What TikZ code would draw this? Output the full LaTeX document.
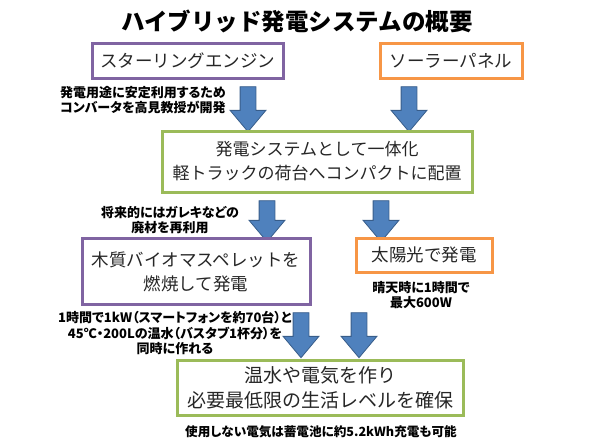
\documentclass[tikz,border=0pt]{standalone}
\usepackage{fontspec}
\setmainfont{Noto Sans CJK JP}
\newfontfamily\notefont[RawFeature=+palt]{Noto Sans CJK JP}
\usetikzlibrary{shapes.arrows}
\definecolor{boxpurple}{RGB}{128,100,162}
\definecolor{boxorange}{RGB}{247,150,70}
\definecolor{boxgreen}{RGB}{155,187,89}
\definecolor{arrowfill}{RGB}{79,129,189}
\definecolor{arrowedge}{RGB}{56,93,138}
\tikzset{
  box/.style={draw,line width=3pt,fill=white,inner sep=0pt,align=center,text=black!85},
  purplebox/.style={box,draw=boxpurple},
  orangebox/.style={box,draw=boxorange},
  greenbox/.style={box,draw=boxgreen},
  note/.style={font=\notefont\bfseries\fontsize{13}{15.5}\selectfont,inner sep=0pt},
  bigarrow/.style={single arrow,draw=arrowedge,fill=arrowfill,line width=0.8pt,
    minimum width=35pt,single arrow head extend=10pt,single arrow tip angle=80,
    inner sep=7.5pt,rotate=-90}
}
\begin{document}
\begin{tikzpicture}[x=1pt,y=-1pt]
  \useasboundingbox (0,0) rectangle (595,445);
  % タイトル
  \node[font=\bfseries\fontsize{23.5}{28}\selectfont] (title) at (297,21) {ハイブリッド発電システムの概要};
  % 上段
  \node[purplebox,minimum width=191pt,minimum height=35pt,font=\fontsize{17.5}{24}\selectfont] (engine) at (187.5,60.5) {スターリングエンジン};
  \node[orangebox,minimum width=142pt,minimum height=35pt,font=\fontsize{17.5}{24}\selectfont] (panel) at (451,60.5) {ソーラーパネル};
  \node[bigarrow,minimum height=45pt] (arrA) at (248,104.5) {};
  \node[bigarrow,minimum height=45pt] (arrB) at (409,104.5) {};
  \node[note,anchor=west,align=left] (conv) at (60,100) {発電用途に安定利用するため\\コンバータを高見教授が開発};
  % 中段
  \node[greenbox,minimum width=310pt,minimum height=61pt,font=\fontsize{17}{24}\selectfont] (system) at (317,161.5) {発電システムとして一体化\\軽トラックの荷台へコンパクトに配置};
  \node[bigarrow,minimum height=41pt] (arrC) at (267,216.5) {};
  \node[bigarrow,minimum height=41pt] (arrD) at (381,216.5) {};
  \node[note,align=center] (waste) at (170,220) {将来的にはガレキなどの\\廃材を再利用};
  \node[purplebox,minimum width=228pt,minimum height=66pt,font=\fontsize{17.5}{24}\selectfont] (pellet) at (196,271.5) {木質バイオマスペレットを\\燃焼して発電};
  \node[orangebox,minimum width=136pt,minimum height=34pt,font=\fontsize{17.5}{24}\selectfont] (sun) at (424,255) {太陽光で発電};
  \node[note,align=center] (sunnote) at (421,295) {晴天時に1時間で\\最大600W};
  \node[note,align=center] (pelletnote) at (175,333) {1時間で1kW（スマートフォンを約70台）と\\45℃・200Lの温水（バスタブ1杯分）を\\同時に作れる};
  % 下段
  \node[bigarrow,minimum height=45pt] (arrE) at (301,330.5) {};
  \node[bigarrow,minimum height=45pt] (arrF) at (359,330.5) {};
  \node[greenbox,minimum width=286pt,minimum height=55pt,font=\fontsize{19}{25}\selectfont] (life) at (320,387.5) {温水や電気を作り\\必要最低限の生活レベルを確保};
  \node[note,font=\notefont\bfseries\fontsize{12.6}{15}\selectfont] (battery) at (321,432) {使用しない電気は蓄電池に約5.2kWh充電も可能};
\end{tikzpicture}
\end{document}
